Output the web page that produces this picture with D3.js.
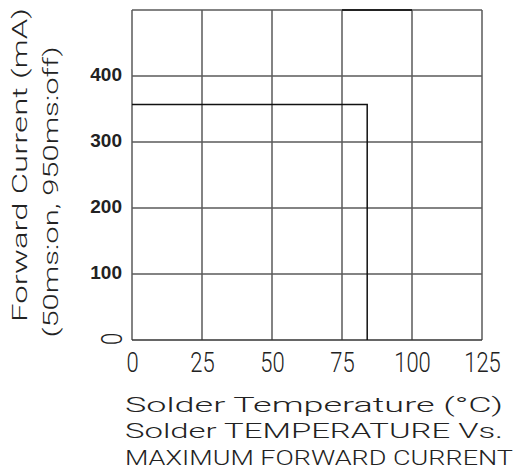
<!DOCTYPE html>
<html>
<head>
<meta charset="utf-8">
<script src="https://cdn.jsdelivr.net/npm/d3@7"></script>
<style>
  body { margin: 0; background: #fff; }
  .cad { font-family: Roboto, "DejaVu Sans", sans-serif; font-weight: 300; fill: #222; }
  .ynum { font-family: "Liberation Sans", Arial, sans-serif; font-weight: bold; fill: #222; }
</style>
</head>
<body>
<div id="chart"></div>
<script>
// DATA
var xTicks = [0, 25, 50, 75, 100, 125];
var yTicks = [100, 200, 300, 400];
var yZero = [0];
var yGrid = [100, 200, 300, 400, 500];
var derateTemp = [0, 84, 84];        // solder temperature (C)
var derateCurrent = [357, 357, 0];   // max forward current (mA)
var topTemp = [75, 100];             // darker segment on the top border
var topCurrent = [500, 500];
var yLabelLines = ["Forward Current (mA)", "(50ms:on, 950ms:off)"];
var xLabelLines = ["Solder Temperature (\u00B0C)", "Solder TEMPERATURE Vs.", "MAXIMUM FORWARD CURRENT"];

// SET UP CHART
var svgWidth = 525, svgHeight = 473;
var svg = d3.select("#chart").append("svg")
  .attr("width", svgWidth)
  .attr("height", svgHeight);

var x = d3.scaleLinear().domain([0, 125]).range([132, 482]);
var y = d3.scaleLinear().domain([0, 500]).range([340, 10]);

// GRID
svg.append("g").selectAll("line")
  .data(xTicks)
  .enter().append("line")
  .attr("x1", d => x(d)).attr("x2", d => x(d))
  .attr("y1", y(0)).attr("y2", y(500))
  .attr("stroke", "#5a5a5a").attr("stroke-width", 1.5);

svg.append("g").selectAll("line")
  .data(yGrid)
  .enter().append("line")
  .attr("x1", x(0)).attr("x2", x(125))
  .attr("y1", d => y(d)).attr("y2", d => y(d))
  .attr("stroke", "#5a5a5a").attr("stroke-width", 1.5);

// bottom border
svg.append("line")
  .attr("x1", x(0)).attr("x2", x(125))
  .attr("y1", y(0)).attr("y2", y(0))
  .attr("stroke", "#333").attr("stroke-width", 1.5);

// DATA LINES
var line = d3.line().x(d => x(d[0])).y(d => y(d[1]));
svg.append("path")
  .attr("d", line(derateTemp.map((t, i) => [t, derateCurrent[i]])))
  .attr("fill", "none")
  .attr("stroke", "#111")
  .attr("stroke-width", 1.5);

svg.append("path")
  .attr("d", line(topTemp.map((t, i) => [t, topCurrent[i]])))
  .attr("fill", "none")
  .attr("stroke", "#222")
  .attr("stroke-width", 2);

// X AXIS LABELS
var xAxis = svg.append("g")
  .attr("transform", `translate(0, ${y(0)})`)
  .attr("font-family", null).attr("font-size", null)
  .call(d3.axisBottom(x).tickValues(xTicks).tickSize(0).tickPadding(0));
xAxis.select(".domain").remove();
xAxis.attr("font-family", null).attr("font-size", null);
xAxis.selectAll("text")
  .attr("class", "cad")
  .attr("y", 0)
  .attr("dy", 0)
  .attr("fill", "#222")
  .style("font-size", "22px")
  .attr("transform", "translate(0,32) scale(1,1.22)");

// Y AXIS LABELS
var yAxis = svg.append("g")
  .attr("transform", `translate(${x(0) - 10}, 0)`)
  .call(d3.axisLeft(y).tickValues(yTicks).tickSize(0).tickPadding(0));
yAxis.select(".domain").remove();
yAxis.attr("font-family", null).attr("font-size", null);
yAxis.selectAll(".tick text")
  .attr("class", "ynum")
  .attr("fill", "#222")
  .style("font-size", "19px")
  .attr("x", 0)
  .attr("dy", "0.32em")
  .attr("transform", "translate(0,-2)");

// rotated zero on the y axis
svg.selectAll(".yzero")
  .data(yZero)
  .enter().append("text")
  .attr("class", "cad yzero")
  .attr("transform", d => `translate(112, ${y(d) - 1}) rotate(-90) scale(1,1.3)`)
  .attr("text-anchor", "middle")
  .attr("dominant-baseline", "central")
  .style("font-size", "22px")
  .text(d => d);

// Y TITLE (rotated)
var yPos = [[27, 165, 314], [58, 192, 291]];
svg.selectAll(".ytitle")
  .data(yLabelLines)
  .enter().append("text")
  .attr("class", "cad ytitle")
  .attr("transform", (d, i) => `translate(${yPos[i][0]}, ${yPos[i][1]}) rotate(-90)`)
  .attr("text-anchor", "middle")
  .attr("textLength", (d, i) => yPos[i][2])
  .attr("lengthAdjust", "spacingAndGlyphs")
  .style("font-size", "21px")
  .text(d => d);

// X TITLE
var xPos = [[412, 378], [438, 378], [465, 388]];
svg.selectAll(".xtitle")
  .data(xLabelLines)
  .enter().append("text")
  .attr("class", "cad xtitle")
  .attr("x", 125)
  .attr("y", (d, i) => xPos[i][0])
  .attr("textLength", (d, i) => xPos[i][1])
  .attr("lengthAdjust", "spacingAndGlyphs")
  .style("font-size", "21px")
  .text(d => d);
</script>
</body>
</html>
